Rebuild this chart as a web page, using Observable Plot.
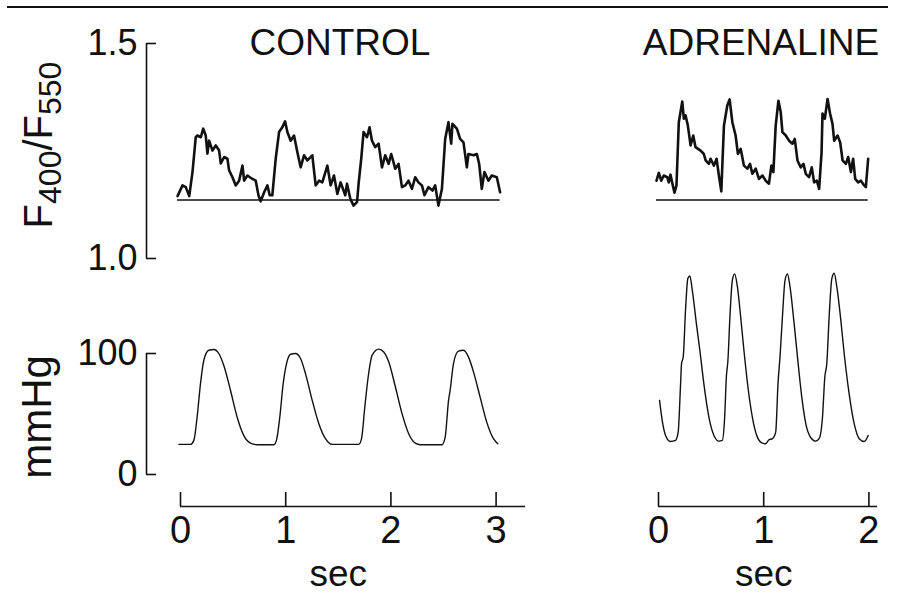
<!DOCTYPE html>
<html>
<head>
<meta charset="utf-8">
<script src="https://cdn.jsdelivr.net/npm/d3@7"></script>
<script src="https://cdn.jsdelivr.net/npm/@observablehq/plot@0.6"></script>
<style>
  body { margin: 0; background: #fff; }
  #fig { position: relative; width: 898px; height: 598px; overflow: hidden;
         font-family: "Liberation Sans", Arial, Helvetica, sans-serif; color: #111; background: #fff; }
  #fig svg { position: absolute; left: 0; top: 0; }
  .rule { position: absolute; left: 7px; width: 881px; top: 6px; height: 2px; background: #111; }
  .title { position: absolute; font-size: 37px; line-height: 1; white-space: nowrap;
           transform: translate(-50%, -50%); }
  .ylab { position: absolute; font-size: 40px; line-height: 1; white-space: nowrap;
          transform: translate(-50%, -50%) rotate(-90deg); }
  .ylab sub { font-size: 32px; vertical-align: -0.28em; line-height: 0; }
</style>
</head>
<body>
<div id="fig">
  <div class="rule"></div>
  <div class="title" style="left:340px; top:42px">CONTROL</div>
  <div class="title" style="left:761px; top:42px">ADRENALINE</div>
  <div class="ylab" style="left:38px; top:145px">F<sub>400</sub>/F<sub>550</sub></div>
  <div class="ylab" style="left:37px; top:417px; font-size:42px">mmHg</div>
</div>
<script>
// ---- data: [time (s), value] ----
const ratioTicks = [1.0, 1.5];
const pressureTicks = [0, 100];
const controlTimeTicks = [0, 1, 2, 3];
const adrenalineTimeTicks = [0, 1, 2];
const ratioBaseline = [1.136];

// Fluorescence ratio F400/F550, control
const controlRatio = [
  [-0.028,1.145],[0.019,1.170],[0.050,1.166],[0.083,1.145],[0.114,1.201],[0.145,1.282],[0.161,1.286],
  [0.193,1.282],[0.216,1.302],[0.240,1.286],[0.256,1.244],[0.272,1.274],[0.304,1.251],[0.335,1.263],
  [0.367,1.251],[0.383,1.221],[0.415,1.236],[0.446,1.232],[0.462,1.205],[0.494,1.189],[0.525,1.170],
  [0.557,1.181],[0.589,1.216],[0.605,1.181],[0.636,1.193],[0.684,1.185],[0.715,1.181],[0.741,1.147],
  [0.762,1.133],[0.795,1.154],[0.826,1.170],[0.848,1.147],[0.873,1.147],[0.905,1.232],[0.937,1.294],
  [0.968,1.305],[0.994,1.319],[1.016,1.294],[1.047,1.274],[1.079,1.286],[1.111,1.247],[1.142,1.212],
  [1.174,1.240],[1.206,1.228],[1.253,1.240],[1.285,1.170],[1.317,1.181],[1.348,1.177],[1.396,1.216],
  [1.427,1.170],[1.459,1.193],[1.491,1.150],[1.522,1.177],[1.566,1.147],[1.583,1.174],[1.614,1.139],
  [1.645,1.123],[1.678,1.131],[1.693,1.174],[1.718,1.232],[1.740,1.294],[1.773,1.282],[1.797,1.305],
  [1.820,1.274],[1.851,1.259],[1.883,1.267],[1.915,1.212],[1.946,1.240],[1.978,1.220],[2.003,1.243],
  [2.041,1.209],[2.073,1.220],[2.105,1.166],[2.136,1.170],[2.167,1.181],[2.200,1.162],[2.231,1.189],
  [2.262,1.177],[2.295,1.170],[2.319,1.147],[2.357,1.166],[2.395,1.158],[2.421,1.170],[2.452,1.123],
  [2.485,1.162],[2.516,1.278],[2.547,1.317],[2.573,1.267],[2.585,1.313],[2.627,1.302],[2.658,1.278],
  [2.690,1.270],[2.722,1.212],[2.737,1.243],[2.785,1.240],[2.817,1.243],[2.839,1.220],[2.864,1.162],
  [2.889,1.201],[2.927,1.181],[2.959,1.193],[3.007,1.189],[3.038,1.154]
];

// Fluorescence ratio F400/F550, adrenaline
const adrenalineRatio = [
  [-0.019,1.181],[0.003,1.199],[0.026,1.181],[0.050,1.193],[0.083,1.189],[0.098,1.177],[0.114,1.195],
  [0.136,1.170],[0.152,1.153],[0.171,1.170],[0.193,1.317],[0.226,1.365],[0.241,1.325],[0.257,1.333],
  [0.279,1.309],[0.305,1.263],[0.330,1.286],[0.352,1.259],[0.400,1.251],[0.431,1.243],[0.448,1.228],
  [0.479,1.220],[0.495,1.232],[0.527,1.216],[0.552,1.232],[0.574,1.193],[0.597,1.156],[0.622,1.309],
  [0.654,1.356],[0.676,1.370],[0.702,1.317],[0.733,1.286],[0.755,1.243],[0.781,1.255],[0.812,1.216],
  [0.845,1.209],[0.870,1.220],[0.892,1.197],[0.924,1.209],[0.955,1.185],[0.988,1.193],[1.019,1.181],
  [1.050,1.174],[1.073,1.216],[1.092,1.201],[1.114,1.309],[1.140,1.367],[1.162,1.340],[1.178,1.294],
  [1.210,1.286],[1.241,1.274],[1.273,1.267],[1.295,1.278],[1.321,1.228],[1.352,1.212],[1.378,1.220],
  [1.400,1.197],[1.431,1.189],[1.457,1.212],[1.479,1.177],[1.505,1.181],[1.527,1.162],[1.550,1.247],
  [1.559,1.337],[1.581,1.325],[1.607,1.371],[1.631,1.337],[1.654,1.313],[1.670,1.274],[1.702,1.286],
  [1.727,1.270],[1.750,1.228],[1.781,1.220],[1.803,1.236],[1.829,1.201],[1.850,1.232],[1.870,1.185],
  [1.898,1.177],[1.924,1.181],[1.955,1.170],[1.971,1.166],[1.993,1.232]
];

// Pressure (mmHg), control
const controlPressure = [
  [-0.016,24.9],[0.095,24.9],[0.127,28.2],[0.158,47.5],[0.190,75.1],[0.222,94.4],[0.269,102.7],
  [0.316,103.3],[0.364,100.0],[0.411,90.3],[0.475,69.6],[0.538,47.5],[0.601,32.3],[0.665,25.9],
  [0.728,24.6],[0.887,24.6],[0.912,28.2],[0.944,47.5],[0.976,75.1],[1.008,91.7],[1.046,99.4],
  [1.093,100.0],[1.141,95.9],[1.188,83.4],[1.252,61.3],[1.315,42.0],[1.378,29.6],[1.442,24.9],
  [1.695,24.9],[1.721,29.6],[1.752,55.8],[1.784,80.6],[1.822,98.6],[1.885,103.6],[1.932,101.3],
  [1.980,93.0],[2.043,72.3],[2.106,50.3],[2.169,33.7],[2.232,25.9],[2.280,24.6],[2.485,24.6],
  [2.516,30.9],[2.548,61.3],[2.563,69.6],[2.595,91.7],[2.642,101.9],[2.690,102.7],[2.737,97.2],
  [2.785,84.8],[2.848,64.0],[2.911,43.3],[2.975,29.6],[3.016,25.4]
];

// Pressure (mmHg), adrenaline
const adrenalinePressure = [
  [0.010,61.3],[0.035,44.7],[0.067,32.3],[0.114,27.3],[0.162,28.2],[0.187,35.0],[0.210,75.1],
  [0.219,91.7],[0.235,97.2],[0.257,135.9],[0.279,162.1],[0.298,164.0],[0.321,152.4],[0.362,123.4],
  [0.393,102.7],[0.431,75.1],[0.479,47.5],[0.527,32.3],[0.574,27.6],[0.607,28.2],[0.629,47.5],
  [0.645,80.6],[0.660,94.4],[0.679,130.3],[0.702,160.7],[0.724,165.7],[0.750,155.2],[0.781,130.3],
  [0.812,102.7],[0.854,69.6],[0.892,47.5],[0.940,30.9],[0.988,25.9],[1.019,25.4],[1.050,28.7],
  [1.083,29.6],[1.114,35.0],[1.136,75.1],[1.155,97.2],[1.178,130.3],[1.203,160.7],[1.226,165.7],
  [1.250,155.2],[1.289,124.9],[1.321,97.2],[1.362,64.0],[1.400,42.0],[1.448,30.4],[1.495,27.6],
  [1.527,29.6],[1.559,47.5],[1.581,80.6],[1.600,91.7],[1.622,130.3],[1.648,162.1],[1.670,166.3],
  [1.695,155.2],[1.733,127.6],[1.765,100.0],[1.812,66.9],[1.860,42.0],[1.908,29.6],[1.955,27.3],
  [1.993,32.3]
];

// ---- layout ----
const W = 898, H = 598;
const SEC = 105.2;                 // px per second on both time axes
const TICK = 10;                   // inward tick length (px)
const INK = "#111";
const FONT = "'Liberation Sans', Arial, Helvetica, sans-serif";
const style = {background: "transparent", color: INK, overflow: "visible", fontFamily: FONT};

const AXIS_LEFT = 146;
const CONTROL = {origin: 180, right: 525};
const ADREN = {origin: 658, left: 650, right: 877};
const RATIO = {top: 43, bottom: 258};
const PRESSURE = {top: 353, bottom: 474};
const TIME = {top: 492, bottom: 506};

const tx = d => d[0];
const ty = d => d[1];

function timeDomain(origin, left, right) {
  return [(left - origin) / SEC, (right - origin) / SEC];
}

function panel({origin, left, right, top, bottom, yDomain, marks}) {
  return Plot.plot({
    width: W, height: H,
    marginLeft: left, marginRight: W - right, marginTop: top, marginBottom: H - bottom,
    style,
    x: {domain: timeDomain(origin, left, right), axis: null},
    y: {domain: yDomain, axis: null},
    marks
  });
}

// left axis: vertical line, inward ticks and labels
function leftAxis(xDomain, ticks, format) {
  return [
    Plot.ruleX([xDomain[0]], {y1: ticks[0], y2: ticks[ticks.length - 1], stroke: INK, strokeWidth: 1.6}),
    Plot.ruleY(ticks, {x1: xDomain[0], x2: xDomain[0] + TICK / SEC, stroke: INK, strokeWidth: 1.6}),
    Plot.axisY({ticks, tickSize: 0, tickPadding: 9, tickFormat: format, fontSize: 36, label: null})
  ];
}

function ratioTrace(data) {
  return [
    Plot.ruleY(ratioBaseline, {x1: d3.min(data, tx), x2: d3.max(data, tx), stroke: INK, strokeWidth: 1.5}),
    Plot.line(data, {x: tx, y: ty, stroke: INK, strokeWidth: 2.6, strokeLinejoin: "round"})
  ];
}

function pressureTrace(data) {
  return Plot.line(data, {x: tx, y: ty, curve: "monotone-x", stroke: INK, strokeWidth: 1.4});
}

function timeAxis({origin, right, ticks}) {
  return Plot.plot({
    width: W, height: H,
    marginLeft: origin, marginRight: W - right, marginTop: TIME.top, marginBottom: H - TIME.bottom,
    style,
    x: {domain: timeDomain(origin, origin, right), axis: null},
    y: {domain: [0, 1], axis: null},
    marks: [
      Plot.ruleY([0], {stroke: INK, strokeWidth: 1.6}),
      Plot.ruleX(ticks, {y1: 0, y2: 1, stroke: INK, strokeWidth: 1.6}),
      Plot.axisX({ticks, tickSize: 0, tickPadding: 10, tickFormat: d => String(d), fontSize: 38, label: null}),
      Plot.text(["sec"], {x: d3.mean(ticks), text: d => d, frameAnchor: "bottom", dy: 79, fontSize: 37})
    ]
  });
}

const ctrlDomain = timeDomain(CONTROL.origin, AXIS_LEFT, CONTROL.right);

const fig = document.getElementById("fig");
[
  panel({
    origin: CONTROL.origin, left: AXIS_LEFT, right: CONTROL.right, ...RATIO, yDomain: [1.0, 1.5],
    marks: [...leftAxis(ctrlDomain, ratioTicks, d3.format(".1f")), ...ratioTrace(controlRatio)]
  }),
  panel({
    origin: ADREN.origin, left: ADREN.left, right: ADREN.right, ...RATIO, yDomain: [1.0, 1.5],
    marks: ratioTrace(adrenalineRatio)
  }),
  panel({
    origin: CONTROL.origin, left: AXIS_LEFT, right: CONTROL.right, ...PRESSURE, yDomain: [0, 100],
    marks: [...leftAxis(ctrlDomain, pressureTicks, d => String(d)), pressureTrace(controlPressure)]
  }),
  panel({
    origin: ADREN.origin, left: ADREN.left, right: ADREN.right, ...PRESSURE, yDomain: [0, 100],
    marks: [pressureTrace(adrenalinePressure)]
  }),
  timeAxis({origin: CONTROL.origin, right: CONTROL.right, ticks: controlTimeTicks}),
  timeAxis({origin: ADREN.origin, right: ADREN.right, ticks: adrenalineTimeTicks})
].forEach(svg => fig.appendChild(svg));
</script>
</body>
</html>
